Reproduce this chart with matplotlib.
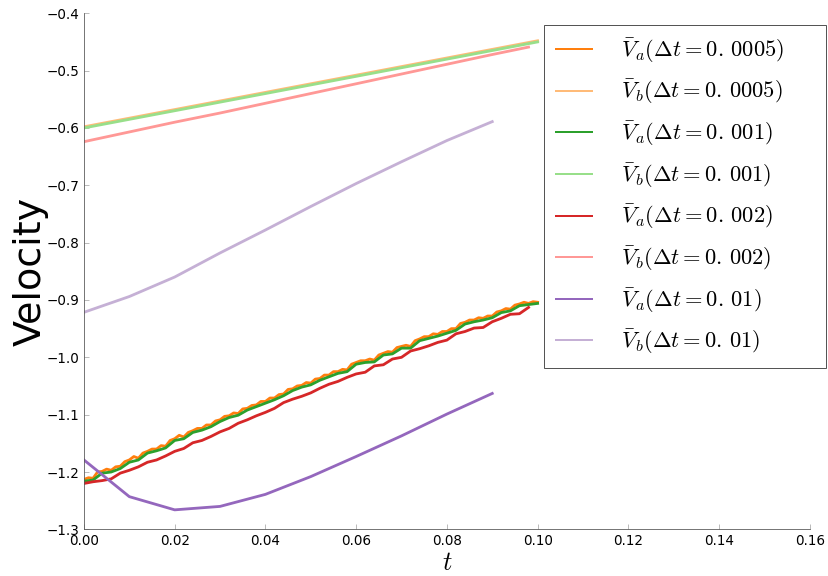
import numpy as np
import matplotlib
matplotlib.use("Agg")
import matplotlib.pyplot as plt

plt.rcParams['mathtext.fontset'] = 'cm'
plt.rcParams['font.family'] = ['DejaVu Sans']

# time grids
t_0005 = np.round(np.arange(0, 101) * 0.001, 4)
t_001 = np.round(np.arange(0, 51) * 0.002, 4)
t_002 = np.round(np.arange(0, 50) * 0.002, 4)
t_01 = np.round(np.arange(0, 10) * 0.01, 4)
t_b = np.array([0.0, 0.01, 0.02, 0.03, 0.04, 0.05, 0.06, 0.07, 0.08, 0.09, 0.1])
t_b002 = np.array([0.0, 0.01, 0.02, 0.03, 0.04, 0.05, 0.06, 0.07, 0.08, 0.09, 0.098])

va_0005 = [-1.213, -1.210, -1.211, -1.200, -1.199, -1.195, -1.197, -1.191, -1.190, -1.182,
           -1.179, -1.173, -1.176, -1.167, -1.164, -1.160, -1.160, -1.154, -1.155, -1.145,
           -1.142, -1.136, -1.139, -1.131, -1.128, -1.124, -1.124, -1.118, -1.118, -1.111,
           -1.109, -1.103, -1.102, -1.097, -1.098, -1.090, -1.089, -1.084, -1.083, -1.077,
           -1.077, -1.071, -1.071, -1.065, -1.064, -1.056, -1.055, -1.050, -1.049, -1.044,
           -1.045, -1.038, -1.037, -1.031, -1.031, -1.025, -1.025, -1.021, -1.022, -1.012,
           -1.009, -1.006, -1.006, -1.003, -1.005, -0.996, -0.993, -0.990, -0.991, -0.983,
           -0.981, -0.979, -0.981, -0.971, -0.968, -0.964, -0.964, -0.959, -0.960, -0.955,
           -0.955, -0.950, -0.950, -0.941, -0.939, -0.935, -0.935, -0.931, -0.932, -0.928,
           -0.928, -0.921, -0.919, -0.915, -0.916, -0.909, -0.907, -0.904, -0.906, -0.903,
           -0.904]
vb_0005 = [-0.598, -0.583, -0.568, -0.553, -0.538, -0.523, -0.508, -0.493, -0.478, -0.463, -0.448]

va_001 = [-1.216, -1.214, -1.202, -1.200, -1.194, -1.183, -1.179, -1.167, -1.163, -1.158,
          -1.145, -1.142, -1.131, -1.127, -1.121, -1.112, -1.105, -1.101, -1.092, -1.086,
          -1.080, -1.074, -1.067, -1.058, -1.052, -1.048, -1.040, -1.034, -1.028, -1.025,
          -1.012, -1.009, -1.008, -0.996, -0.994, -0.984, -0.984, -0.971, -0.967, -0.963,
          -0.958, -0.953, -0.942, -0.938, -0.935, -0.931, -0.922, -0.919, -0.910, -0.908,
          -0.906]
vb_001 = [-0.600, -0.585, -0.570, -0.555, -0.540, -0.525, -0.510, -0.495, -0.480, -0.465, -0.450]

va_002 = [-1.220, -1.217, -1.215, -1.212, -1.202, -1.197, -1.191, -1.183, -1.179, -1.172,
          -1.164, -1.159, -1.149, -1.145, -1.138, -1.130, -1.124, -1.115, -1.109, -1.102,
          -1.096, -1.089, -1.079, -1.073, -1.068, -1.062, -1.054, -1.047, -1.042, -1.035,
          -1.029, -1.026, -1.015, -1.013, -1.003, -1.000, -0.989, -0.985, -0.980, -0.974,
          -0.970, -0.959, -0.955, -0.949, -0.948, -0.938, -0.932, -0.925, -0.924, -0.913]
vb_002 = [-0.624, -0.607, -0.590, -0.574, -0.557, -0.540, -0.523, -0.506, -0.489, -0.472, -0.459]

va_01 = [-1.179, -1.243, -1.266, -1.260, -1.239, -1.208, -1.173, -1.137, -1.099, -1.063]
vb_01 = [-0.9215, -0.894, -0.860, -0.818, -0.778, -0.737, -0.697, -0.659, -0.622, -0.589]

series = [
    (t_0005, va_0005, '#ff7f0e', r'$\bar{V}_a(\Delta t = 0.\,0005)$' + '     '),
    (t_b, vb_0005, '#ffbb78', r'$\bar{V}_b(\Delta t = 0.\,0005)$'),
    (t_001, va_001, '#2ca02c', r'$\bar{V}_a(\Delta t = 0.\,001)$'),
    (t_b, vb_001, '#98df8a', r'$\bar{V}_b(\Delta t = 0.\,001)$'),
    (t_002, va_002, '#d62728', r'$\bar{V}_a(\Delta t = 0.\,002)$'),
    (t_b002, vb_002, '#ff9896', r'$\bar{V}_b(\Delta t = 0.\,002)$'),
    (t_01, va_01, '#9467bd', r'$\bar{V}_a(\Delta t = 0.\,01)$'),
    (t_01, vb_01, '#c5b0d5', r'$\bar{V}_b(\Delta t = 0.\,01)$'),
]

fig = plt.figure(figsize=(11.5, 8), dpi=72)
ax = fig.add_axes([0.1014, 0.081, 0.8766, 0.896])

for t, v, c, lab in series:
    ax.plot(t, v, color=c, lw=2.8, label=lab)

ax.set_xlim(0, 0.16)
ax.set_ylim(-1.3, -0.4)
ax.set_xticks(np.arange(0, 0.161, 0.02))
ax.set_yticks(np.arange(-1.3, -0.39, 0.1))
ax.xaxis.set_major_formatter(matplotlib.ticker.FormatStrFormatter('%.2f'))
ax.yaxis.set_major_formatter(
    matplotlib.ticker.FuncFormatter(lambda v, p: ('%.1f' % v).replace('-', '\u2212')))

for s in ['top', 'right']:
    ax.spines[s].set_visible(False)
for s in ['left', 'bottom']:
    ax.spines[s].set_color('#555555')
ax.tick_params(direction='in', length=5, color='#aaaaaa', labelsize=13.5, pad=5,
               top=False, right=False)

ax.set_ylabel('Velocity', fontsize=38, labelpad=-3)
ax.set_xlabel('$t$', fontsize=26, labelpad=2)

leg = ax.legend(loc='upper right', bbox_to_anchor=(826 / 828, 1 - 25 / 576),
                bbox_transform=fig.transFigure, fontsize=22.5, fancybox=False,
                framealpha=1, edgecolor='#555555', borderaxespad=0,
                handlelength=1.6, handletextpad=1.3, labelspacing=0.58,
                borderpad=0.5)
for h in leg.legend_handles:
    h.set_linewidth(2)

fig.savefig('out.png', dpi=72)
